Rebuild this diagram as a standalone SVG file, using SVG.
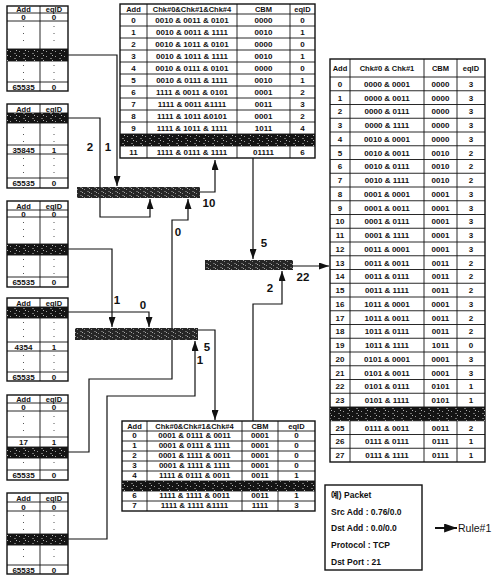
<svg xmlns="http://www.w3.org/2000/svg" width="494" height="575" viewBox="0 0 494 575">
<style>
.t{font-family:"Liberation Sans",Arial,sans-serif;font-weight:bold;font-size:8px;text-anchor:middle;fill:#111}
.h{font-size:7.5px}
.lb{font-family:"Liberation Sans",Arial,sans-serif;font-weight:bold;font-size:11.5px;text-anchor:middle;fill:#111}
.pk{font-family:"Liberation Sans","Noto Sans CJK KR",sans-serif;font-weight:bold;font-size:8.5px;fill:#111}
.rl{font-family:"Liberation Sans",Arial,sans-serif;font-size:10.5px;fill:#111}
.box{fill:#fff;stroke:#111;stroke-width:1.4}
.grid{fill:none;stroke:#111;stroke-width:0.9}
.dots{fill:none;stroke:#555;stroke-width:1;stroke-dasharray:1 6}
.dk{fill:url(#nz)}
.bar{fill:url(#nz2)}
.c{fill:none;stroke:#111;stroke-width:1.2;marker-end:url(#ah)}
.c2{fill:none;stroke:#111;stroke-width:2;marker-end:url(#ah2)}
</style>
<defs>
<pattern id="nz" width="9" height="5" patternUnits="userSpaceOnUse"><rect width="9" height="5" fill="#141414"/><rect x="1" y="1" width="1" height="1" fill="#9a9a9a"/><rect x="5" y="3" width="2" height="1" fill="#707070"/><rect x="7" y="0" width="1" height="1" fill="#bbb"/></pattern>
<pattern id="nz2" width="7" height="4" patternUnits="userSpaceOnUse"><rect width="7" height="4" fill="#262626"/><rect x="0" y="1" width="1" height="1" fill="#8a8a8a"/><rect x="3" y="3" width="2" height="1" fill="#6a6a6a"/><rect x="5" y="0" width="1" height="1" fill="#aaa"/></pattern>
<marker id="ah" viewBox="0 0 10 7" refX="10" refY="3.5" markerWidth="10" markerHeight="7" markerUnits="userSpaceOnUse" orient="auto"><path d="M0,0L10,3.5L0,7z" fill="#111"/></marker>
<marker id="ah2" viewBox="0 0 10 7" refX="10" refY="3.5" markerWidth="13" markerHeight="9" markerUnits="userSpaceOnUse" orient="auto"><path d="M0,0L10,3.5L0,7z" fill="#111"/></marker>
</defs>
<rect width="494" height="575" fill="#fff"/>

<g id="connectors">
<path class="c" d="M68,55H117V186"/>
<path class="c" d="M68,118H100V217H150V199"/>
<path class="c" d="M68,452H89V379H172V220H188V199"/>
<path class="c" d="M68,249H112V327"/>
<path class="c" d="M68,312H149V327"/>
<path class="c" d="M68,539H107V396H195V341"/>
<path class="c" d="M200,192H215V160"/>
<path class="c" d="M253,158V259"/>
<path class="c" d="M293,266H329"/>
<path class="c" d="M253,421V304H282V271"/>
<path class="c" d="M198,330H215V420"/>
<path class="c2" d="M435,528H457"/>
<text class="lb" x="90" y="151">2</text>
<text class="lb" x="108" y="151">1</text>
<text class="lb" x="209" y="207">10</text>
<text class="lb" x="178" y="236">0</text>
<text class="lb" x="264" y="247">5</text>
<text class="lb" x="303" y="281">22</text>
<text class="lb" x="270" y="292">2</text>
<text class="lb" x="117" y="304">1</text>
<text class="lb" x="143" y="309">0</text>
<text class="lb" x="207" y="351">5</text>
<text class="lb" x="200" y="364">1</text>
</g>

<g id="tbl-a1">
<rect class="box" x="7" y="6" width="61" height="85"/>
<path class="grid" d="M40,6V91M7,13H68M7,21H68M7,49H68M7,61H68M7,82H68"/>
<rect class="dk" x="7" y="49" width="61" height="12"/>
<path class="dots" d="M23.5,26V47M54,26V47M23.5,65V80M54,65V80"/>
<text class="t h" x="23.5" y="12">Add</text><text class="t h" x="54" y="12">eqID</text>
<text class="t" x="23.5" y="20">0</text><text class="t" x="54" y="20">0</text>
<text class="t" x="23.5" y="89.5">65535</text><text class="t" x="54" y="89.5">0</text>
</g>

<g id="tbl-a2">
<rect class="box" x="7" y="104" width="61" height="84"/>
<path class="grid" d="M40,104V188M7,113H68M7,123H68M7,145H68M7,154H68M7,178H68"/>
<rect class="dk" x="7" y="113" width="61" height="10"/>
<path class="dots" d="M23.5,127V143M54,127V143M23.5,158V176M54,158V176"/>
<text class="t h" x="23.5" y="111.5">Add</text><text class="t h" x="54" y="111.5">eqID</text>
<text class="t" x="23.5" y="152.5">35845</text><text class="t" x="54" y="152.5">1</text>
<text class="t" x="23.5" y="186">65535</text><text class="t" x="54" y="186">0</text>
</g>

<g id="tbl-a3">
<rect class="box" x="7" y="201" width="61" height="86"/>
<path class="grid" d="M40,201V287M7,210H68M7,217H68M7,244H68M7,255H68M7,277H68"/>
<rect class="dk" x="7" y="244" width="61" height="11"/>
<path class="dots" d="M23.5,222V242M54,222V242M23.5,259V275M54,259V275"/>
<text class="t h" x="23.5" y="208.5">Add</text><text class="t h" x="54" y="208.5">eqID</text>
<text class="t" x="23.5" y="216.5">0</text><text class="t" x="54" y="216.5">0</text>
<text class="t" x="23.5" y="285">65535</text><text class="t" x="54" y="285">0</text>
</g>

<g id="tbl-a4">
<rect class="box" x="7" y="298" width="61" height="83"/>
<path class="grid" d="M40,298V381M7,307H68M7,318H68M7,342H68M7,351H68M7,372H68"/>
<rect class="dk" x="7" y="307" width="61" height="11"/>
<path class="dots" d="M23.5,322V340M54,322V340M23.5,355V370M54,355V370"/>
<text class="t h" x="23.5" y="305.5">Add</text><text class="t h" x="54" y="305.5">eqID</text>
<text class="t" x="23.5" y="349.5">4354</text><text class="t" x="54" y="349.5">1</text>
<text class="t" x="23.5" y="379.5">65535</text><text class="t" x="54" y="379.5">0</text>
</g>

<g id="tbl-a5">
<rect class="box" x="7" y="395" width="61" height="85"/>
<path class="grid" d="M40,395V480M7,403H68M7,411H68M7,437H68M7,447H68M7,458H68M7,470H68"/>
<rect class="dk" x="7" y="447" width="61" height="11"/>
<path class="dots" d="M23.5,416V435M54,416V435M23.5,462V468M54,462V468"/>
<text class="t h" x="23.5" y="401.5">Add</text><text class="t h" x="54" y="401.5">eqID</text>
<text class="t" x="23.5" y="410">0</text><text class="t" x="54" y="410">0</text>
<text class="t" x="23.5" y="445">17</text><text class="t" x="54" y="445">1</text>
<text class="t" x="23.5" y="478">65535</text><text class="t" x="54" y="478">0</text>
</g>

<g id="tbl-a6">
<rect class="box" x="7" y="493" width="61" height="81"/>
<path class="grid" d="M40,493V574M7,502H68M7,511H68M7,534H68M7,545H68M7,565H68"/>
<rect class="dk" x="7" y="534" width="61" height="11"/>
<path class="dots" d="M23.5,515V532M54,515V532M23.5,549V563M54,549V563"/>
<text class="t h" x="23.5" y="500.5">Add</text><text class="t h" x="54" y="500.5">eqID</text>
<text class="t" x="23.5" y="509.5">0</text><text class="t" x="54" y="509.5">0</text>
<text class="t" x="23.5" y="572.5">65535</text><text class="t" x="54" y="572.5">0</text>
</g>

<g id="tbl-top">
<rect class="box" x="120" y="4" width="195" height="154"/>
<path class="grid" d="M147,4V158M237,4V158M290,4V158M120,14H315M120,26H315M120,38H315M120,50H315M120,62H315M120,74H315M120,86H315M120,98H315M120,110H315M120,122H315M120,134H315M120,146H315"/>
<rect class="dk" x="120" y="134" width="195" height="12"/>
<text class="t h" x="133.5" y="12">Add</text><text class="t h" x="192" y="12">Chk#0&amp;Chk#1&amp;Chk#4</text><text class="t h" x="263.5" y="12">CBM</text><text class="t h" x="302.5" y="12">eqID</text>
<text class="t"><tspan x="133.5" y="23">0</tspan><tspan x="133.5" y="35">1</tspan><tspan x="133.5" y="47">2</tspan><tspan x="133.5" y="59">3</tspan><tspan x="133.5" y="71">4</tspan><tspan x="133.5" y="83">5</tspan><tspan x="133.5" y="95">6</tspan><tspan x="133.5" y="107">7</tspan><tspan x="133.5" y="119">8</tspan><tspan x="133.5" y="131">9</tspan><tspan x="133.5" y="155">11</tspan></text>
<text class="t"><tspan x="192" y="23">0010 &amp; 0011 &amp; 0101</tspan><tspan x="192" y="35">0010 &amp; 0011 &amp; 1111</tspan><tspan x="192" y="47">0010 &amp; 1011 &amp; 0101</tspan><tspan x="192" y="59">0010 &amp; 1011 &amp; 1111</tspan><tspan x="192" y="71">0010 &amp; 0111 &amp; 0101</tspan><tspan x="192" y="83">0010 &amp; 0111 &amp; 1111</tspan><tspan x="192" y="95">1111 &amp; 0011 &amp; 0101</tspan><tspan x="192" y="107">1111 &amp; 0011 &amp;1111</tspan><tspan x="192" y="119">1111 &amp; 1011 &amp;0101</tspan><tspan x="192" y="131">1111 &amp; 1011 &amp; 1111</tspan><tspan x="192" y="155">1111 &amp; 0111 &amp; 1111</tspan></text>
<text class="t"><tspan x="263.5" y="23">0000</tspan><tspan x="263.5" y="35">0010</tspan><tspan x="263.5" y="47">0000</tspan><tspan x="263.5" y="59">0010</tspan><tspan x="263.5" y="71">0000</tspan><tspan x="263.5" y="83">0010</tspan><tspan x="263.5" y="95">0001</tspan><tspan x="263.5" y="107">0011</tspan><tspan x="263.5" y="119">0001</tspan><tspan x="263.5" y="131">1011</tspan><tspan x="263.5" y="155">01111</tspan></text>
<text class="t"><tspan x="302.5" y="23">0</tspan><tspan x="302.5" y="35">1</tspan><tspan x="302.5" y="47">0</tspan><tspan x="302.5" y="59">1</tspan><tspan x="302.5" y="71">0</tspan><tspan x="302.5" y="83">1</tspan><tspan x="302.5" y="95">2</tspan><tspan x="302.5" y="107">3</tspan><tspan x="302.5" y="119">2</tspan><tspan x="302.5" y="131">4</tspan><tspan x="302.5" y="155">6</tspan></text>
</g>

<g id="tbl-right">
<rect class="box" x="330" y="59" width="155" height="403"/>
<path class="grid" d="M350,59V462M424,59V462M457,59V462M330,77H485M330,90.75H485M330,104.5H485M330,118.25H485M330,132H485M330,145.75H485M330,159.5H485M330,173.25H485M330,187H485M330,200.75H485M330,214.5H485M330,228.25H485M330,242H485M330,255.75H485M330,269.5H485M330,283.25H485M330,297H485M330,310.75H485M330,324.5H485M330,338.25H485M330,352H485M330,365.75H485M330,379.5H485M330,393.25H485M330,407H485M330,420.75H485M330,434.5H485M330,448.25H485"/>
<rect class="dk" x="330" y="407" width="155" height="13.75"/>
<text class="t h" x="340" y="71">Add</text><text class="t h" x="387" y="71">Chk#0 &amp; Chk#1</text><text class="t h" x="440.5" y="71">CBM</text><text class="t h" x="471" y="71">eqID</text>
<text class="t"><tspan x="340" y="86.8">0</tspan><tspan x="340" y="100.6">1</tspan><tspan x="340" y="114.3">2</tspan><tspan x="340" y="128.1">3</tspan><tspan x="340" y="141.8">4</tspan><tspan x="340" y="155.6">5</tspan><tspan x="340" y="169.3">6</tspan><tspan x="340" y="183.1">7</tspan><tspan x="340" y="196.8">8</tspan><tspan x="340" y="210.6">9</tspan><tspan x="340" y="224.3">10</tspan><tspan x="340" y="238.1">11</tspan><tspan x="340" y="251.8">12</tspan><tspan x="340" y="265.6">13</tspan><tspan x="340" y="279.3">14</tspan><tspan x="340" y="293.1">15</tspan><tspan x="340" y="306.8">16</tspan><tspan x="340" y="320.6">17</tspan><tspan x="340" y="334.3">18</tspan><tspan x="340" y="348.1">19</tspan><tspan x="340" y="361.8">20</tspan><tspan x="340" y="375.6">21</tspan><tspan x="340" y="389.3">22</tspan><tspan x="340" y="403.1">23</tspan><tspan x="340" y="430.6">25</tspan><tspan x="340" y="444.3">26</tspan><tspan x="340" y="458.1">27</tspan></text>
<text class="t"><tspan x="387" y="86.8">0000 &amp; 0001</tspan><tspan x="387" y="100.6">0000 &amp; 0011</tspan><tspan x="387" y="114.3">0000 &amp; 0111</tspan><tspan x="387" y="128.1">0000 &amp; 1111</tspan><tspan x="387" y="141.8">0010 &amp; 0001</tspan><tspan x="387" y="155.6">0010 &amp; 0011</tspan><tspan x="387" y="169.3">0010 &amp; 0111</tspan><tspan x="387" y="183.1">0010 &amp; 1111</tspan><tspan x="387" y="196.8">0001 &amp; 0001</tspan><tspan x="387" y="210.6">0001 &amp; 0011</tspan><tspan x="387" y="224.3">0001 &amp; 0111</tspan><tspan x="387" y="238.1">0001 &amp; 1111</tspan><tspan x="387" y="251.8">0011 &amp; 0001</tspan><tspan x="387" y="265.6">0011 &amp; 0011</tspan><tspan x="387" y="279.3">0011 &amp; 0111</tspan><tspan x="387" y="293.1">0011 &amp; 1111</tspan><tspan x="387" y="306.8">1011 &amp; 0001</tspan><tspan x="387" y="320.6">1011 &amp; 0011</tspan><tspan x="387" y="334.3">1011 &amp; 0111</tspan><tspan x="387" y="348.1">1011 &amp; 1111</tspan><tspan x="387" y="361.8">0101 &amp; 0001</tspan><tspan x="387" y="375.6">0101 &amp; 0011</tspan><tspan x="387" y="389.3">0101 &amp; 0111</tspan><tspan x="387" y="403.1">0101 &amp; 1111</tspan><tspan x="387" y="430.6">0111 &amp; 0011</tspan><tspan x="387" y="444.3">0111 &amp; 0111</tspan><tspan x="387" y="458.1">0111 &amp; 1111</tspan></text>
<text class="t"><tspan x="440.5" y="86.8">0000</tspan><tspan x="440.5" y="100.6">0000</tspan><tspan x="440.5" y="114.3">0000</tspan><tspan x="440.5" y="128.1">0000</tspan><tspan x="440.5" y="141.8">0000</tspan><tspan x="440.5" y="155.6">0010</tspan><tspan x="440.5" y="169.3">0010</tspan><tspan x="440.5" y="183.1">0010</tspan><tspan x="440.5" y="196.8">0001</tspan><tspan x="440.5" y="210.6">0001</tspan><tspan x="440.5" y="224.3">0001</tspan><tspan x="440.5" y="238.1">0001</tspan><tspan x="440.5" y="251.8">0001</tspan><tspan x="440.5" y="265.6">0011</tspan><tspan x="440.5" y="279.3">0011</tspan><tspan x="440.5" y="293.1">0011</tspan><tspan x="440.5" y="306.8">0001</tspan><tspan x="440.5" y="320.6">0011</tspan><tspan x="440.5" y="334.3">0011</tspan><tspan x="440.5" y="348.1">1011</tspan><tspan x="440.5" y="361.8">0001</tspan><tspan x="440.5" y="375.6">0001</tspan><tspan x="440.5" y="389.3">0101</tspan><tspan x="440.5" y="403.1">0101</tspan><tspan x="440.5" y="430.6">0011</tspan><tspan x="440.5" y="444.3">0111</tspan><tspan x="440.5" y="458.1">0111</tspan></text>
<text class="t"><tspan x="471" y="86.8">3</tspan><tspan x="471" y="100.6">3</tspan><tspan x="471" y="114.3">3</tspan><tspan x="471" y="128.1">3</tspan><tspan x="471" y="141.8">3</tspan><tspan x="471" y="155.6">2</tspan><tspan x="471" y="169.3">2</tspan><tspan x="471" y="183.1">2</tspan><tspan x="471" y="196.8">3</tspan><tspan x="471" y="210.6">3</tspan><tspan x="471" y="224.3">3</tspan><tspan x="471" y="238.1">3</tspan><tspan x="471" y="251.8">3</tspan><tspan x="471" y="265.6">2</tspan><tspan x="471" y="279.3">2</tspan><tspan x="471" y="293.1">2</tspan><tspan x="471" y="306.8">3</tspan><tspan x="471" y="320.6">2</tspan><tspan x="471" y="334.3">2</tspan><tspan x="471" y="348.1">0</tspan><tspan x="471" y="361.8">3</tspan><tspan x="471" y="375.6">3</tspan><tspan x="471" y="389.3">1</tspan><tspan x="471" y="403.1">1</tspan><tspan x="471" y="430.6">2</tspan><tspan x="471" y="444.3">1</tspan><tspan x="471" y="458.1">1</tspan></text>
</g>

<g id="tbl-bottom">
<rect class="box" x="122" y="421" width="193" height="90"/>
<path class="grid" d="M147,421V511M242,421V511M278,421V511M122,431H315M122,441H315M122,451H315M122,461H315M122,471H315M122,481H315M122,491H315M122,501H315"/>
<rect class="dk" x="122" y="481" width="193" height="10"/>
<text class="t h" x="134.5" y="429">Add</text><text class="t h" x="194.5" y="429">Chk#0&amp;Chk#1&amp;Chk#4</text><text class="t h" x="260" y="429">CBM</text><text class="t h" x="296.5" y="429">eqID</text>
<text class="t"><tspan x="134.5" y="438.3">0</tspan><tspan x="134.5" y="448.3">1</tspan><tspan x="134.5" y="458.3">2</tspan><tspan x="134.5" y="468.3">3</tspan><tspan x="134.5" y="478.3">4</tspan><tspan x="134.5" y="498.3">6</tspan><tspan x="134.5" y="508.3">7</tspan></text>
<text class="t"><tspan x="194.5" y="438.3">0001 &amp; 0111 &amp; 0011</tspan><tspan x="194.5" y="448.3">0001 &amp; 0111 &amp; 1111</tspan><tspan x="194.5" y="458.3">0001 &amp; 1111 &amp; 0011</tspan><tspan x="194.5" y="468.3">0001 &amp; 1111 &amp; 1111</tspan><tspan x="194.5" y="478.3">1111 &amp; 0111 &amp; 0011</tspan><tspan x="194.5" y="498.3">1111 &amp; 1111 &amp; 0011</tspan><tspan x="194.5" y="508.3">1111 &amp; 1111 &amp;1111</tspan></text>
<text class="t"><tspan x="260" y="438.3">0001</tspan><tspan x="260" y="448.3">0001</tspan><tspan x="260" y="458.3">0001</tspan><tspan x="260" y="468.3">0001</tspan><tspan x="260" y="478.3">0011</tspan><tspan x="260" y="498.3">0011</tspan><tspan x="260" y="508.3">1111</tspan></text>
<text class="t"><tspan x="296.5" y="438.3">0</tspan><tspan x="296.5" y="448.3">0</tspan><tspan x="296.5" y="458.3">0</tspan><tspan x="296.5" y="468.3">0</tspan><tspan x="296.5" y="478.3">1</tspan><tspan x="296.5" y="498.3">1</tspan><tspan x="296.5" y="508.3">3</tspan></text>
</g>

<g id="bar-1"><rect class="bar" x="77" y="187" width="123" height="11"/></g>
<g id="bar-2"><rect class="bar" x="75" y="328" width="123" height="12"/></g>
<g id="bar-3"><rect class="bar" x="205" y="260" width="88" height="10"/></g>

<g id="packet">
<rect class="box" x="325" y="485" width="97" height="85"/>
<text class="pk" x="331" y="498">예) Packet</text>
<text class="pk" x="331" y="515">Src Add : 0.76/0.0</text>
<text class="pk" x="331" y="531">Dst Add : 0.0/0.0</text>
<text class="pk" x="331" y="548">Protocol : TCP</text>
<text class="pk" x="331" y="565">Dst Port : 21</text>
</g>
<g id="rule"><text class="rl" x="458" y="532">Rule#1</text></g>
</svg>
